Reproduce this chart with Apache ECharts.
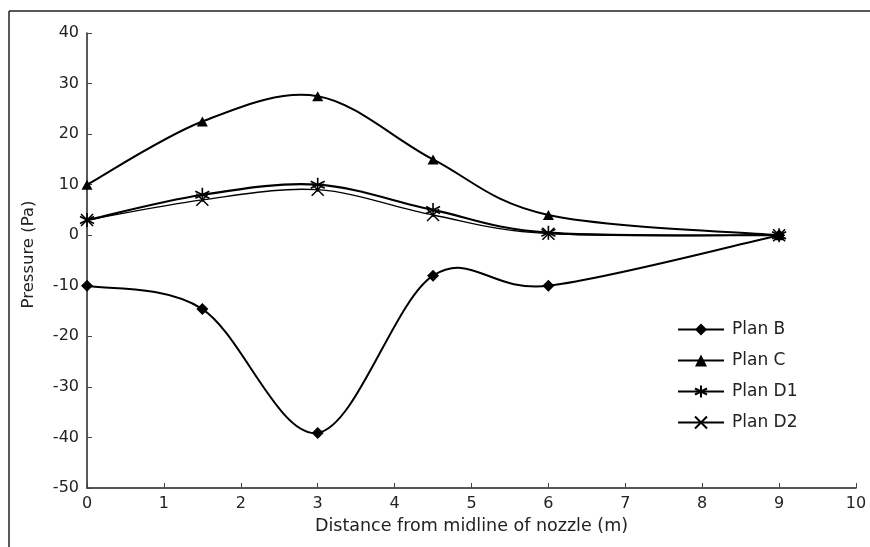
<!DOCTYPE html>
<html>
<head>
<meta charset="utf-8">
<script src="https://cdn.jsdelivr.net/npm/echarts@6/dist/echarts.min.js"></script>
<style>
html,body{margin:0;padding:0;background:#fff;}
#chart{width:870px;height:547px;}
</style>
</head>
<body>
<div id="chart"></div>
<script>
const distances = [0, 1.5, 3, 4.5, 6, 9];
const planB = [-10, -14.6, -39.1, -8, -10, 0];
const planC = [10, 22.5, 27.5, 15, 4, 0];
const planD1 = [3, 8, 10, 5, 0.5, 0];
const planD2 = [3, 7, 9, 4, 0.3, 0];
const seriesNames = ['Plan B', 'Plan C', 'Plan D1', 'Plan D2'];
const xTicks = [0, 1, 2, 3, 4, 5, 6, 7, 8, 9, 10];
const yTicks = [-50, -40, -30, -20, -10, 0, 10, 20, 30, 40];

const FONT = 'DejaVu Sans';
const asterisk = 'path://M10,0L10,20M1.3,5L18.7,15M18.7,5L1.3,15';
const cross = 'path://M0,0L20,20M20,0L0,20';

function pairs(ys){ return distances.map((x,i)=>[x, ys[i]]); }

// smoothed curve (Catmull-Rom -> Bezier) drawn in pixel space via the axes' coord conversion
function curveSeries(ys, width){
  const data = pairs(ys);
  return {
    type: 'custom', name: '_curve', silent: true, z: 1,
    data: data,
    encode: {x: 0, y: 1},
    renderItem: function(params, api){
      if (params.dataIndex !== 0) return null;
      const p = data.map(d => api.coord(d));
      const n = p.length;
      let path = 'M' + p[0][0] + ' ' + p[0][1];
      for (let i = 0; i < n - 1; i++){
        const p0 = p[Math.max(i-1,0)], p1 = p[i], p2 = p[i+1], p3 = p[Math.min(i+2,n-1)];
        const c1x = p1[0] + (p2[0]-p0[0])/6, c1y = p1[1] + (p2[1]-p0[1])/6;
        const c2x = p2[0] - (p3[0]-p1[0])/6, c2y = p2[1] - (p3[1]-p1[1])/6;
        path += ' C' + c1x + ' ' + c1y + ' ' + c2x + ' ' + c2y + ' ' + p2[0] + ' ' + p2[1];
      }
      return {type:'path', shape:{pathData: path}, style:{fill:'none', stroke:'#000', lineWidth: width}};
    }
  };
}

function markerSeries(name, ys, symbol, size, itemStyle){
  return {name: name, type:'line', data: pairs(ys), z: 3,
    symbol: symbol, symbolSize: size, showAllSymbol: true,
    lineStyle: {color:'rgba(0,0,0,0)', width: 2},
    itemStyle: itemStyle};
}

const chart = echarts.init(document.getElementById('chart'));
chart.setOption({
  animation: false,
  backgroundColor: '#fff',
  textStyle: {fontFamily: FONT, color: '#222'},
  graphic: [
    {type:'line', shape:{x1:9,y1:11,x2:870,y2:11}, style:{stroke:'#222', lineWidth:1.5}},
    {type:'line', shape:{x1:9,y1:11,x2:9,y2:547}, style:{stroke:'#222', lineWidth:1.5}}
  ],
  grid: {left: 87, right: 14, top: 33, bottom: 59, containLabel: false},
  legend: {
    orient: 'vertical',
    left: 672, top: 316,
    itemWidth: 46, itemHeight: 15, itemGap: 14,
    lineStyle: {color: '#000', width: 2, opacity: 1},
    textStyle: {fontFamily: FONT, fontSize: 17, color: '#222', padding:[0,0,0,3]},
    data: seriesNames
  },
  xAxis: {
    type: 'value', min: xTicks[0], max: xTicks[xTicks.length-1], interval: 1,
    name: 'Distance from midline of nozzle (m)',
    nameLocation: 'middle', nameGap: 29,
    nameTextStyle: {fontFamily: FONT, fontSize: 17.5, color: '#222'},
    axisLine: {show: true, onZero: false, lineStyle: {color: '#222', width: 1.5}},
    axisTick: {show: true, inside: true, length: 5, lineStyle: {color: '#444', width: 1}},
    axisLabel: {fontFamily: FONT, fontSize: 16, color: '#222', margin: 8},
    splitLine: {show: false}
  },
  yAxis: {
    type: 'value', min: yTicks[0], max: yTicks[yTicks.length-1], interval: 10,
    name: 'Pressure (Pa)',
    nameLocation: 'middle', nameGap: 50,
    nameTextStyle: {fontFamily: FONT, fontSize: 16.5, color: '#222', padding: [0, 0, 0, 12]},
    axisLine: {show: true, onZero: false, lineStyle: {color: '#222', width: 1.5}},
    axisTick: {show: true, inside: true, length: 5, lineStyle: {color: '#444', width: 1}},
    axisLabel: {fontFamily: FONT, fontSize: 16, color: '#222', margin: 8},
    splitLine: {show: false}
  },
  series: [
    curveSeries(planB, 2),
    curveSeries(planC, 2),
    curveSeries(planD1, 2.2),
    curveSeries(planD2, 1.3),
    markerSeries('Plan B', planB, 'diamond', [12,12], {color:'#000'}),
    markerSeries('Plan C', planC, 'triangle', [11,10], {color:'#000'}),
    markerSeries('Plan D1', planD1, asterisk, 14, {color:'none', borderColor:'#000', borderWidth:1.6}),
    markerSeries('Plan D2', planD2, cross, 12, {color:'none', borderColor:'#000', borderWidth:1.5})
  ]
});
</script>
</body>
</html>
